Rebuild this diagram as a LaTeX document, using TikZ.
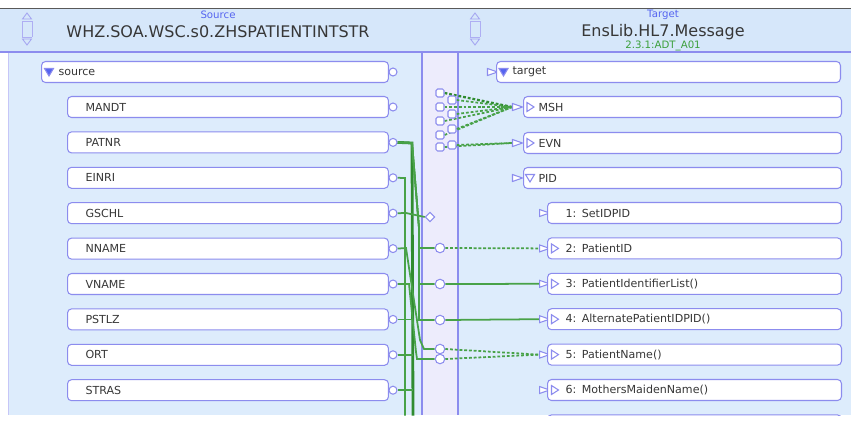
\documentclass[tikz,border=0pt]{standalone}
\usepackage{fontspec}
\setmainfont{DejaVu Sans}
\usetikzlibrary{shapes.geometric,backgrounds}
\definecolor{panelbg}{RGB}{221,236,252}
\definecolor{headbg}{RGB}{214,231,250}
\definecolor{midbg}{RGB}{237,236,252}
\definecolor{edge}{RGB}{140,140,238}
\definecolor{link}{RGB}{72,162,72}
\definecolor{linkdark}{RGB}{48,140,48}
\definecolor{txt}{RGB}{55,55,55}
\definecolor{caption}{RGB}{85,100,240}
\definecolor{version}{RGB}{60,160,60}

\begin{document}
\begin{tikzpicture}[x=0.02cm,y=-0.02cm,
  fieldbox/.style={draw=edge, fill=white, rounded corners=0.08cm, line width=0.6pt,
    minimum height=0.42cm, inner ysep=0pt, anchor=west, align=left, text=txt,
    font=\fontsize{6.3}{7}\selectfont},
  port/.style={circle, draw=edge, fill=white, line width=0.6pt, inner sep=0pt, minimum size=0.16cm},
  hub/.style={port, minimum size=0.19cm},
  slot/.style={rectangle, rounded corners=0.03cm, draw=edge, fill=white, line width=0.6pt,
    inner sep=0pt, minimum size=0.16cm},
  gate/.style={diamond, draw=edge, fill=white, line width=0.6pt, inner sep=0pt, minimum size=0.19cm},
  intri/.style={isosceles triangle, isosceles triangle stretches, draw=edge, fill=white,
    line width=0.6pt, inner sep=0pt, minimum width=0.14cm, minimum height=0.2cm},
  title/.style={text=txt, font=\fontsize{9.1}{10}\selectfont},
  caption/.style={text=caption, font=\fontsize{5.8}{6}\selectfont, inner sep=0pt},
  version/.style={text=version, font=\fontsize{5.8}{6}\selectfont, inner sep=0pt},
  wire/.style={draw=link, line width=1pt},
  mapped/.style={wire, dash pattern=on 1.6pt off 1.1pt}]
\newcommand{\rowgap}{35.4}
\newcommand{\opentri}[2]{\draw[edge, line width=0.6pt, fill=white] ({#1-3},{#2-4.5}) -- ({#1+4},{#2}) -- ({#1-3},{#2+4.5}) -- cycle;}
\newcommand{\downtri}[3]{\draw[edge, line width=0.6pt, fill=#3] ({#1-4.5},{#2-3.5}) -- ({#1+4.5},{#2-3.5}) -- ({#1},{#2+4}) -- cycle;}
\newcommand{\scroller}[1]{%
  \draw[edge!70, line width=0.5pt] ({#1-5},21) -- ({#1+5},21) ({#1-5},37) -- ({#1+5},37)
    ({#1-5},21) -- ({#1-5},37) ({#1+5},21) -- ({#1+5},37);
  \draw[edge!80, line width=0.5pt] ({#1-4.5},19) -- ({#1},13) -- ({#1+4.5},19) -- cycle;
  \draw[edge!80, line width=0.5pt] ({#1-4.5},39) -- ({#1},45) -- ({#1+4.5},39) -- cycle;}

\useasboundingbox (0,0) rectangle (851,423);

% header
\fill[headbg] (0,9) rectangle (851,52);
\draw[black!65, line width=0.9pt] (0,8.5) -- (851,8.5);
\draw[edge, line width=0.8pt] (0,52) -- (851,52);
\scroller{27}
\scroller{475}
\node[caption] (srccap) at (218,15) {Source};
\node[title] (srctitle) at (218,32) {WHZ.SOA.WSC.s0.ZHSPATIENTINTSTR};
\node[caption] (tgtcap) at (663,15) {Target};
\node[title] (tgttitle) at (663,32) {EnsLib.HL7.Message};
\node[version] (tgtver) at (663,46) {2.3.1:ADT\_A01};

% panels
\begin{scope}[on background layer]
\fill[white] (0,0) rectangle (851,423);
\fill[panelbg] (8,52) rectangle (422,415);
\fill[midbg] (422,52) rectangle (458,415);
\fill[panelbg] (458,52) rectangle (851,415);
\draw[edge!50, line width=0.5pt] (8,52) -- (8,415);
\draw[edge, line width=0.7pt] (422,52) -- (422,415) (458,52) -- (458,415);
\end{scope}

% source side
\node[fieldbox, text width=6.26cm, inner xsep=0.34cm] (ssource) at (41,72) {source};
\downtri{49}{72}{caption}
\node[port] (psource) at (393,72) {};
\foreach \f [count=\i from 0, evaluate=\i as \y using 107+\rowgap*\i] in {MANDT,PATNR,EINRI,GSCHL,NNAME,VNAME,PSTLZ,ORT,STRAS}{
  \node[fieldbox, text width=5.70cm, inner xsep=0.36cm] (s\f) at (67,\y) {\f};
  \node[port] (p\f) at (393,\y) {};
}

% target side
\node[intri] (ttarget) at (490,72) {};
\node[fieldbox, text width=6.24cm, inner xsep=0.32cm] (ftarget) at (496,72) {target};
\downtri{503.5}{72}{caption}
\foreach \s/\y in {MSH/107,EVN/143,PID/178}{
  \node[intri] (t\s) at (515,\y) {};
  \node[fieldbox, text width=5.76cm, inner xsep=0.30cm] (f\s) at (523,\y) {\s};
}
\opentri{530}{107}
\opentri{530}{143}
\downtri{530}{178}{white}
\foreach \lbl [count=\i, evaluate=\i as \y using 213+\rowgap*(\i-1)] in {1: SetIDPID,2: PatientID,3: PatientIdentifierList(),4: AlternatePatientIDPID(),5: PatientName(),6: MothersMaidenName()}{
  \node[intri] (t\i) at (542,\y) {};
  \node[fieldbox, text width=5.16cm, inner xsep=0.36cm] (f\i) at (547,\y) {\lbl};
}
\foreach \i [evaluate=\i as \y using 213+\rowgap*(\i-1)] in {2,...,6}{
  \opentri{554.5}{\y}
}
\begin{scope}
\clip (458,52) rectangle (851,415.6);
\node[fieldbox, text width=5.16cm, inner xsep=0.36cm] (f7) at (547,{213+\rowgap*6}) {};
\end{scope}

% middle column
\foreach \x/\y [count=\k] in {440/93,452/100,440/107,452/114,440/121,452/129,440/135,452/145,440/147}
  \node[slot] (m\k) at (\x,\y) {};
\node[gate] (gsex) at (430,217) {};
\node[hub] (c2) at (440,248) {};
\node[hub] (c3) at (440,284) {};
\node[hub] (c4) at (440,320) {};
\node[hub] (c5a) at (440,349) {};
\node[hub] (c5b) at (440,359) {};
\coordinate (endA) at (405,415.5);
\coordinate (endB) at (413,415.5);

% links
\begin{scope}[on background layer]
\draw[mapped, draw=linkdark, line width=1.3pt] (m1.east) -- (tMSH.west);
\foreach \k in {2,...,7} \draw[mapped] (m\k.east) -- (tMSH.west);
\foreach \k in {8,9} \draw[mapped] (m\k.east) -- (tEVN.west);
\draw[wire, draw=linkdark, line width=1.6pt] (pPATNR.east) -- (412,143) -- (endB);
\foreach \c in {c2,c3,c4}
  \draw[wire] (pPATNR.east) -- (412,143) -- (419,228) |- (\c.west);
\draw[wire] (pEINRI.east) -- (405,178) -- (endA);
\draw[wire] (pGSCHL.east) -- (406,213) -- (gsex.west);
\draw[wire] (pNNAME.east) -- (406,248) -- (420,340) -- (424,349) -- (c5a.west);
\draw[wire] (pVNAME.east) -- (409,284) -- (416,352) -- (417,359) -- (c5b.west);
\foreach \f in {PSTLZ,ORT,STRAS}
  \draw[wire] (p\f.east) -- (endB |- p\f);
\draw[mapped] (c2.east) -- (t2.west);
\draw[wire] (c3.east) -- (t3.west);
\draw[wire] (c4.east) -- (t4.west);
\draw[mapped] (c5a.east) -- (t5.west);
\draw[mapped] (c5b.east) -- (t5.west);
\end{scope}
\end{tikzpicture}
\end{document}
